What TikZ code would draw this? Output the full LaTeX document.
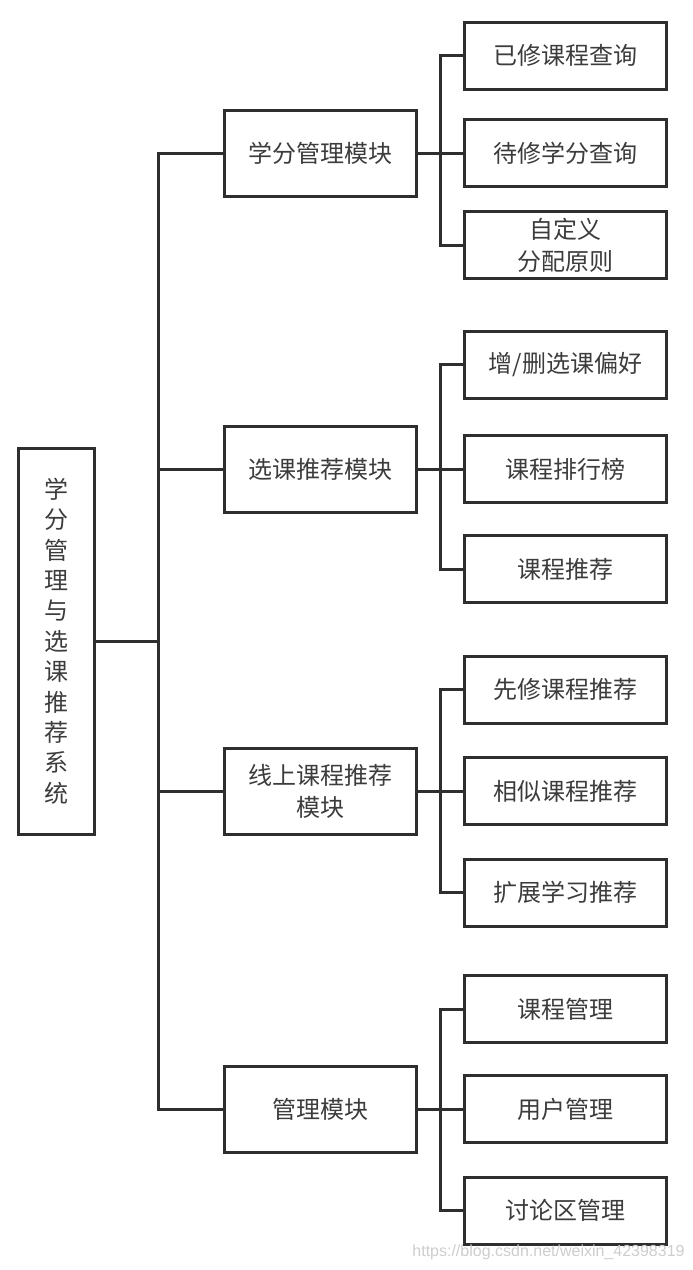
\documentclass[tikz,border=0pt]{standalone}
\usepackage{fontspec}
\newfontfamily\cjk{Noto Sans CJK SC}
\newfontfamily\wmfont{Liberation Sans}
\usepackage{tikz}
\usetikzlibrary{positioning}
\definecolor{linegray}{HTML}{2E2E2E}
\definecolor{textgray}{HTML}{3C3C3C}
\definecolor{markgray}{HTML}{CDCDCD}

\begin{document}
\begin{tikzpicture}[x=0.5pt, y=-0.5pt, line join=miter,
    box/.style={draw=linegray, line width=1.5pt, text=textgray, fill=white,
        font=\cjk\fontsize{12}{16}\selectfont, align=center, inner sep=0pt},
    rootbox/.style={box, font=\cjk\fontsize{12}{15.2}\selectfont,
        minimum width=38pt, minimum height=193pt},
    modbox/.style={box, minimum width=96pt, minimum height=43pt},
    leafbox/.style={box, minimum width=101pt, minimum height=33.5pt},
    link/.style={draw=linegray, line width=1.5pt},
    wm/.style={text=markgray, font=\wmfont\fontsize{8}{9}\selectfont, inner sep=0pt}]

    \useasboundingbox (0, 0) rectangle (692, 1270);

    % --- 1. Root (vertical title) ---
    \node[rootbox] (sys) at (56, 641) {学\\分\\管\\理\\与\\选\\课\\推\\荐\\系\\统};

    % --- 2. Modules ---
    \def\modx{320.5}
    \node[modbox] (credit) at (\modx, 153) {学分管理模块};
    \node[modbox] (select) at (\modx, 469) {选课推荐模块};
    \node[modbox] (online) at (\modx, 791) {线上课程推荐\\模块};
    \node[modbox] (admin)  at (\modx, 1109) {管理模块};

    % --- 3. Leaves ---
    \def\leafx{565.5}
    % credit module
    \node[leafbox] (done) at (\leafx, 55.5) {已修课程查询};
    \node[leafbox] (todo) at (\leafx, 153) {待修学分查询};
    \node[leafbox] (rule) at (\leafx, 245) {自定义\\分配原则};
    % course selection module
    \node[leafbox] (pref) at (\leafx, 364.5) {增/删选课偏好};
    \node[leafbox] (rank) at (\leafx, 469) {课程排行榜};
    \node[leafbox] (rec)  at (\leafx, 569) {课程推荐};
    % online module
    \node[leafbox] (pre) at (\leafx, 689.5) {先修课程推荐};
    \node[leafbox] (sim) at (\leafx, 791) {相似课程推荐};
    \node[leafbox] (ext) at (\leafx, 892.5) {扩展学习推荐};
    % admin module
    \node[leafbox] (course) at (\leafx, 1009) {课程管理};
    \node[leafbox] (user)   at (\leafx, 1109) {用户管理};
    \node[leafbox] (forum)  at (\leafx, 1210.5) {讨论区管理};

    % --- 4. Connectors ---
    \coordinate (trunk) at (158, 0);
    \coordinate (br) at (440, 0);

    % root to modules
    \draw[link] (sys.east) -- (sys.east -| trunk);
    \draw[link] (credit.west) -- (credit.west -| trunk) |- (admin.west);
    \draw[link] (select.west) -- (select.west -| trunk);
    \draw[link] (online.west) -- (online.west -| trunk);

    % modules to leaves
    \foreach \m/\a/\b/\c in {credit/done/todo/rule, select/pref/rank/rec,
                             online/pre/sim/ext, admin/course/user/forum} {
        \draw[link] (\m.east) -- (\m.east -| \b.west);
        \draw[link] (\a.west) -- (\a.west -| br) |- (\c.west);
    }

    % --- 5. Watermark ---
    \node[wm, anchor=east] (mark) at (685, 1252) {https://blog.csdn.net/weixin\_42398319};

\end{tikzpicture}
\end{document}
